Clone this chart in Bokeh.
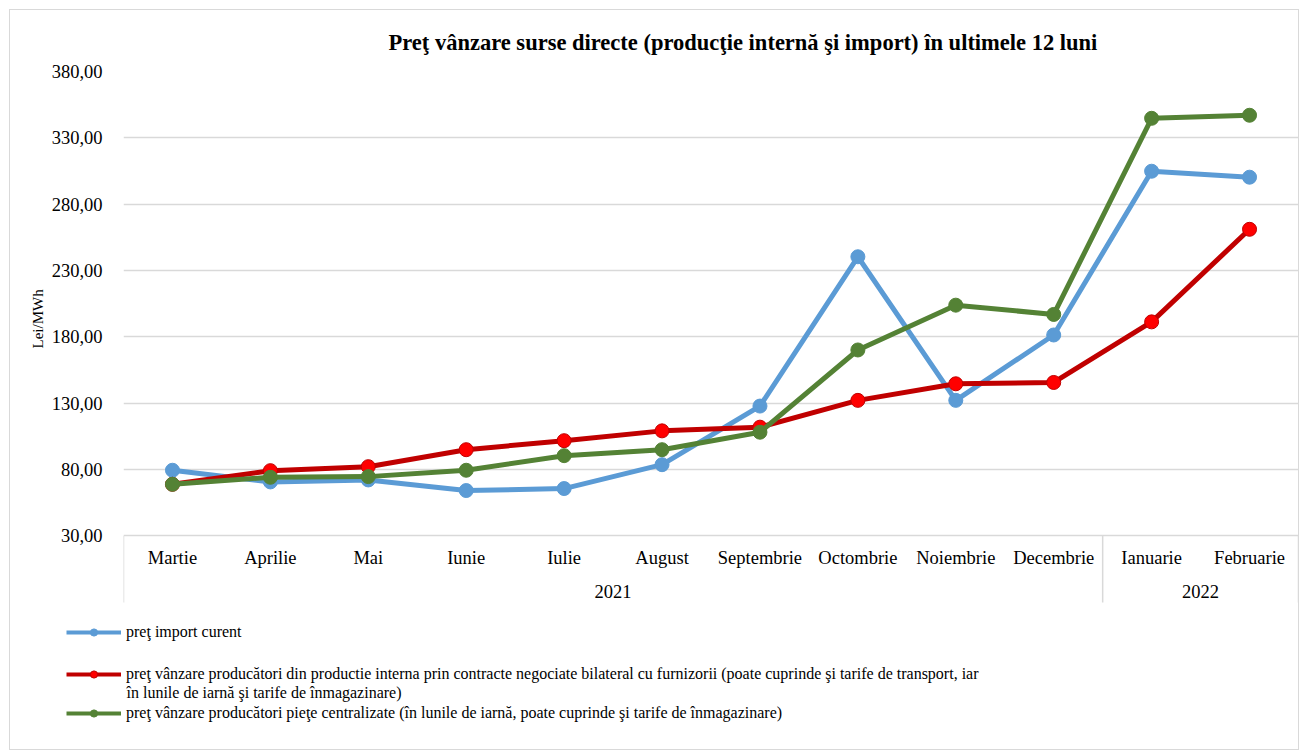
from bokeh.plotting import figure
from bokeh.layouts import column
from bokeh.models import (Range1d, FixedTicker, CustomJSTickFormatter, Legend, LegendItem,
                          ColumnDataSource, Title, Label)
from bokeh.core.properties import value
from bokeh.embed import file_html
from bokeh.resources import INLINE

# ---------------- data ----------------
months = ["Martie", "Aprilie", "Mai", "Iunie", "Iulie", "August", "Septembrie",
          "Octombrie", "Noiembrie", "Decembrie", "Ianuarie", "Februarie"]
years = ["2021", "2022"]
year_counts = [10, 2]
import_price = [79.3, 70.5, 72.0, 64.0, 65.5, 83.5, 127.7, 240.3, 132.0, 181.3, 304.8, 300.3]
bilateral_price = [68.7, 79.0, 82.0, 94.8, 101.6, 109.0, 111.8, 132.0, 144.5, 145.5, 191.2, 261.0]
central_price = [68.7, 74.0, 74.5, 79.3, 90.3, 94.8, 108.0, 170.0, 203.8, 196.8, 344.7, 347.0]
y_ticks = [30, 80, 130, 180, 230, 280, 330, 380]
# each legend entry as its lines of text
series_labels = [
    ["preţ import curent"],
    ["preţ vânzare producători din productie interna prin contracte negociate bilateral cu furnizorii (poate cuprinde şi tarife de transport, iar",
     "în lunile de iarnă şi tarife de înmagazinare)"],
    ["preţ vânzare producători pieţe centralizate (în lunile de iarnă, poate cuprinde şi tarife de înmagazinare)"],
]
title_text = "Preţ vânzare surse directe (producţie internă şi import) în ultimele 12 luni"
y_title = "Lei/MWh"

# ---------------- layout ----------------
FONT = "Liberation Serif"
GRID = "#D9D9D9"
W = 1288
Y_MIN, Y_MAX = y_ticks[0], y_ticks[-1]
PLOT_PX = 465          # pixels between the lowest and highest gridline
BELOW_PX = 70          # extra frame space under the axis for category labels
unit = (Y_MAX - Y_MIN) / PLOT_PX

def px_below(dy):
    return Y_MIN - dy * unit

x = list(range(len(months)))

p = figure(width=W, height=595, output_backend="svg", toolbar_location=None,
           x_range=Range1d(-0.5, len(months) - 0.5),
           y_range=Range1d(px_below(BELOW_PX), Y_MAX),
           min_border_left=113, min_border_right=0, min_border_top=60, min_border_bottom=0)
p.frame_align = False
p.outline_line_color = None
p.xaxis.visible = False
p.xgrid.visible = False
p.ygrid.ticker = FixedTicker(ticks=y_ticks)
p.ygrid.grid_line_color = GRID
p.ygrid.grid_line_width = 1.5

ya = p.yaxis[0]
ya.ticker = FixedTicker(ticks=y_ticks)
ya.formatter = CustomJSTickFormatter(code="return tick.toFixed(2).replace('.', ',');")
ya.axis_line_color = None
ya.major_tick_line_color = None
ya.minor_tick_line_color = None
ya.major_label_text_font = FONT
ya.major_label_text_font_size = "18.5px"
ya.major_label_text_color = "#000000"
ya.major_label_standoff = 15

# y-axis title, placed beside the tick labels and raised to the plot-area middle
p.add_layout(Title(text=y_title, align="left", offset=257, text_font=FONT,
                   text_font_size="15px", text_font_style="normal", text_color="#000000",
                   standoff=6), "left")

p.title = Title(text=title_text, align="left", offset=265, text_font=FONT,
                text_font_size="22.5px", text_font_style="bold", text_color="#000000",
                standoff=34)

# category labels and group separators
cat_src = ColumnDataSource(dict(x=x, y=[px_below(22)] * len(months), t=months))
p.text(x="x", y="y", text="t", source=cat_src, text_font=value(FONT),
       text_font_size=value("18.5px"), text_align="center", text_baseline="middle",
       text_color="#000000")

bounds = [-0.5]
for c in year_counts:
    bounds.append(bounds[-1] + c)
year_x = [(bounds[i] + bounds[i + 1]) / 2 for i in range(len(years))]
p.text(x=year_x, y=[px_below(56)] * len(years), text=years, text_font=value(FONT),
       text_font_size=value("18.5px"), text_align="center", text_baseline="middle",
       text_color="#000000")
p.segment(x0=bounds, x1=bounds, y0=[Y_MIN] * len(bounds), y1=[px_below(67)] * len(bounds),
          line_color=GRID, line_width=1.5)

# series
styles = [
    (import_price, "#5B9BD5", "#5B9BD5", "#5B9BD5"),
    (bilateral_price, "#C00000", "#FF0000", "#C00000"),
    (central_price, "#548235", "#548235", "#548235"),
]
for vals, lc, fc, mc in styles:
    p.line(x, vals, line_color=lc, line_width=5)
    p.scatter(x, vals, size=14, fill_color=fc, line_color=mc, line_width=1)

# ---------------- legend strip ----------------
LH = 144
# the strip's ranges sit far outside the data, so only the legend is seen
lf = figure(width=W, height=LH, output_backend="svg", toolbar_location=None,
            x_range=Range1d(-0.5, len(months) - 0.5),
            y_range=Range1d(Y_MAX * 10, Y_MAX * 10 + 1),
            min_border=0, min_border_left=0, min_border_right=0)
lf.frame_align = False
lf.outline_line_color = None
lf.axis.visible = False
lf.grid.visible = False

# vertical centre of each legend entry's first line, px from the top of the strip
item_centres = [27, 69, 108]
LINE_H = 18
GLYPH_X, GLYPH_W, STANDOFF = 56, 55, 5
for (vals, lc, fc, mc), lines, cy in zip(styles, series_labels, item_centres):
    lr = lf.line(x, vals, line_color=lc, line_width=4)
    sr = lf.scatter(x, vals, fill_color=fc, line_color=mc, line_width=1)
    leg = Legend(items=[LegendItem(label=lines[0], renderers=[lr, sr])],
                 location=(GLYPH_X, LH - cy - LINE_H / 2), orientation="vertical",
                 border_line_color=None, background_fill_alpha=0,
                 glyph_width=GLYPH_W, glyph_height=LINE_H, label_height=LINE_H, spacing=0,
                 padding=0, margin=0, label_standoff=STANDOFF,
                 label_text_font=FONT, label_text_font_size="16px",
                 label_text_color="#000000")
    lf.add_layout(leg, "center")
    for k, extra in enumerate(lines[1:], start=1):
        lf.add_layout(Label(x=GLYPH_X + GLYPH_W + STANDOFF, y=LH - cy - k * LINE_H,
                            x_units="screen", y_units="screen", text=extra,
                            text_font=FONT, text_font_size="16px", text_color="#000000",
                            text_baseline="middle", text_align="left"))

layout = column(p, lf, spacing=0)
layout.styles = {"border": "1px solid #D9D9D9", "margin-left": "9px", "margin-top": "9px"}

open("out.html", "w").write(file_html(layout, INLINE))
